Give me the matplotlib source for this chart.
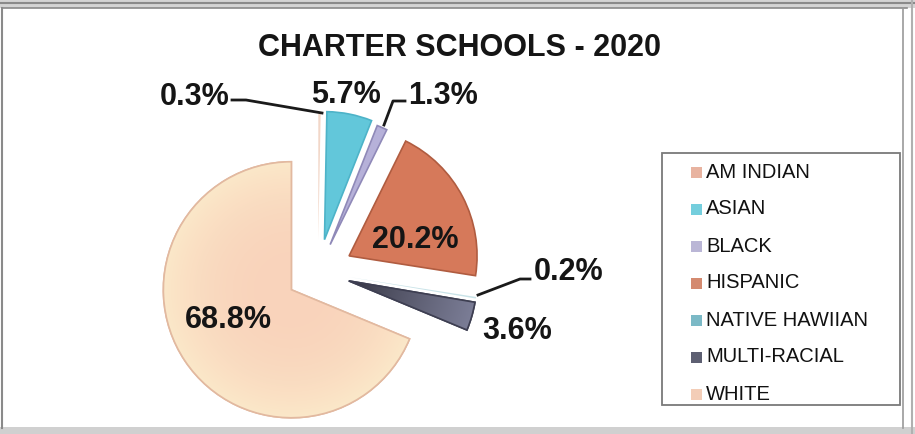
import numpy as np
import matplotlib.pyplot as plt
from matplotlib.patches import Rectangle, Wedge
from matplotlib.colors import to_rgb

plt.rcParams['font.family'] = ['Liberation Sans', 'DejaVu Sans']

W, H = 915, 434

# enrollment share by group, in pie order (clockwise from 12 o'clock)
categories = ['AM INDIAN', 'ASIAN', 'BLACK', 'HISPANIC',
              'NATIVE HAWIIAN', 'MULTI-RACIAL', 'WHITE']
shares = [0.3, 5.7, 1.3, 20.2, 0.2, 3.6, 68.8]
title = 'CHARTER SCHOOLS - 2020'

slice_colors = ['#f2d7c8', '#62c7da', '#b6b1d9', '#d6795a', '#c9e3e8', '#6c6e88', '#f9d5bd']
edge_colors = ['none', '#4db3c8', '#8f89b8', '#b05c40', 'none', '#3e3f52', '#e2b9a0']
legend_colors = ['#e8b3a0', '#74cedd', '#bab6d6', '#d48a70', '#7bb9c6', '#5d5f72', '#f3cdb7']
# pie radius is 128, explode offsets are in the same data units
explode = [32, 33, 30, 35, 32, 32, 32]

fig = plt.figure(figsize=(W / 100, H / 100), dpi=100)
ax = fig.add_axes([0, 0, 1, 1])

# y axis runs downward, so the pie is drawn counterclockwise to read clockwise
wedges, _ = ax.pie(shares, explode=explode, colors=slice_colors, startangle=-90,
                   counterclock=True, center=(318, 272), radius=128, frame=True,
                   wedgeprops=dict(linewidth=1.2))
for w, ec in zip(wedges, edge_colors):
    w.set_edgecolor(ec)
    w.set_zorder(2)

yy, xx = np.mgrid[0:H, 0:W] + 0.5


def shade(w, inner_c, outer_c, power, edge_c):
    # radial colour ramp clipped to a wedge
    cx, cy = w.center
    t = np.clip(np.hypot(xx - cx, yy - cy) / w.r, 0, 1) ** power
    a, b = np.array(to_rgb(inner_c)), np.array(to_rgb(outer_c))
    img = a * (1 - t[..., None]) + b * t[..., None]
    im = ax.imshow(img, extent=(0, W, H, 0), zorder=2.1, interpolation='bilinear')
    im.set_clip_path(w)
    ax.add_patch(Wedge(w.center, w.r, w.theta1, w.theta2, facecolor='none',
                       edgecolor=edge_c, linewidth=1.2, zorder=2.2))


shade(wedges[-1], '#f9d3bb', '#fbe8c9', 2.5, edge_colors[-1])
shade(wedges[5], '#30303c', '#7b7d96', 0.8, edge_colors[5])

ax.set_xlim(0, W)
ax.set_ylim(H, 0)
ax.set_aspect('equal')
ax.axis('off')

lbl = dict(fontsize=22, fontweight='bold', color='#151515', ha='center', va='center', zorder=5)
pct = [f'{v}%' for v in shares]
label_pos = [(195, 97), (346, 95), (443, 96), (415, 240), (569, 272), (517, 331), (228, 320)]
for text, (x, y) in zip(pct, label_pos):
    ax.text(x, y, text, **lbl)

# leader lines for the thin slices
ax.plot([232, 246, 322], [100, 100, 113], color='#1a1a1a', lw=2, zorder=5)
ax.plot([405, 393, 384], [101, 101, 125], color='#1a1a1a', lw=2, zorder=5)
ax.plot([530, 520, 478], [279, 279, 295], color='#1a1a1a', lw=2, zorder=5)

ax.text(460, 48, title, fontsize=22, fontweight='bold', color='#151515',
        ha='center', va='center')

# legend
ax.add_patch(Rectangle((662, 153), 238, 252, facecolor='white', edgecolor='#7a7a7a', lw=1.3, zorder=3))
for i, (name, c) in enumerate(zip(categories, legend_colors)):
    y = 172 + i * 37
    ax.add_patch(Rectangle((691, y - 5.5), 11, 11, facecolor=c, edgecolor='none', zorder=4))
    ax.text(706, y, name, fontsize=14.5, color='#111111', ha='left', va='center', zorder=4)

# outer frame
ax.add_patch(Rectangle((0, 0), W, 8, facecolor='#d4d4d4', edgecolor='none', zorder=0.5))
ax.plot([0, W], [3, 3], color='#8a8a8a', lw=1.5)
ax.plot([2, W - 8], [8, 8], color='#8a8a8a', lw=1.2)
ax.plot([2, 2], [8, 428], color='#8a8a8a', lw=1.5)
ax.plot([903, 903], [8, 428], color='#9a9a9a', lw=1.2)
ax.plot([912, 912], [0, H], color='#b0b0b0', lw=1.5)
ax.add_patch(Rectangle((0, 427), W, 7, facecolor='#d0d0d0', edgecolor='none', zorder=0.5))

fig.savefig('out.png', dpi=100)
